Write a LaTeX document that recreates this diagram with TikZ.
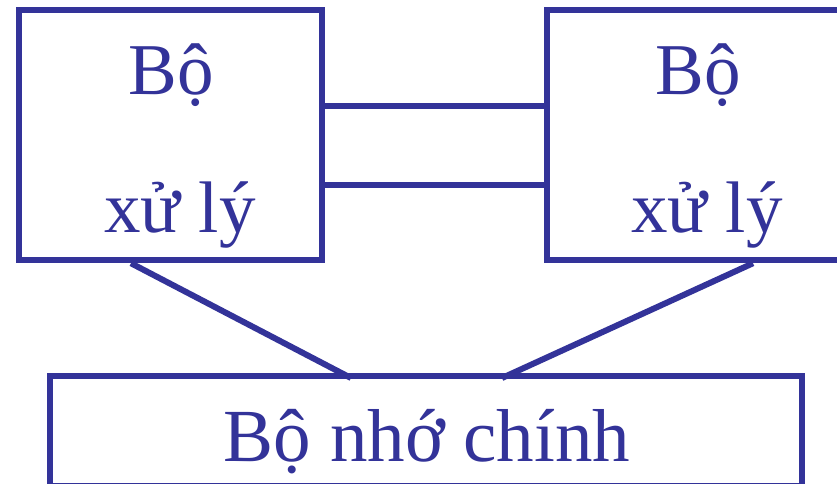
\documentclass[tikz,border=0pt]{standalone}
\usepackage{fontspec}
\setmainfont{Liberation Serif}
\definecolor{cpublue}{RGB}{51,51,153}
\usetikzlibrary{positioning}

\begin{document}
\begin{tikzpicture}[x=1pt, y=-1pt,
  ubox/.style={rectangle, draw=cpublue, line width=6pt,
               minimum width=303pt, minimum height=250pt, inner sep=0pt},
  mbox/.style={rectangle, draw=cpublue, line width=6pt,
               minimum width=752pt, minimum height=110pt, inner sep=0pt},
  txt/.style={anchor=base, inner sep=0pt, text=cpublue,
              font=\fontsize{73}{86}\selectfont},
  bus/.style={draw=cpublue, line width=6pt}
]
\clip (0,0) rectangle (837,484);

% Processor boxes
\node[ubox] (cpuL) at (170.5,135.25) {};
\node[ubox] (cpuR) at (698,135.25) {};

% Main memory
\node[mbox] (mem) at (426,431) {};

% Labels
\node[txt] (cpuLa) at (171,95)  {Bộ};
\node[txt] (cpuLb) at (180,232) {xử lý};
\node[txt] (cpuRa) at (698,95)  {Bộ};
\node[txt] (cpuRb) at (707,232) {xử lý};
\node[txt, font=\fontsize{75}{86}\selectfont] (memt) at (427,461) {Bộ nhớ chính};

% Links
\draw[bus] ([yshift=29pt]cpuL.east)  -- ([yshift=29pt]cpuR.west);
\draw[bus] ([yshift=-50pt]cpuL.east) -- ([yshift=-50pt]cpuR.west);
\draw[bus] ([xshift=-39.5pt]cpuL.south) -- ([xshift=-75pt,yshift=-5pt]mem.north);
\draw[bus] ([xshift=55pt]cpuR.south)    -- ([xshift=76pt,yshift=-5pt]mem.north);
\end{tikzpicture}
\end{document}
